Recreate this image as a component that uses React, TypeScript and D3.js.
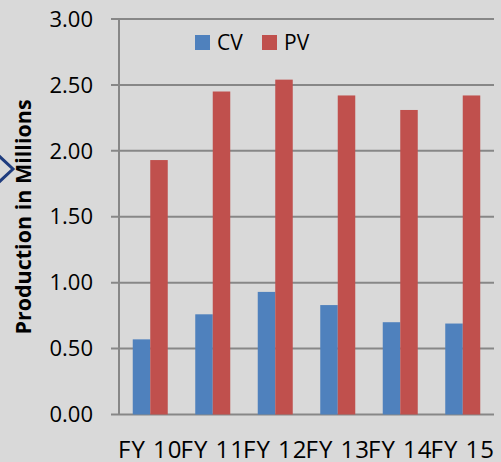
import { useEffect, useRef } from 'react';
import * as d3 from 'd3';

const years = ['FY 10', 'FY 11', 'FY 12', 'FY 13', 'FY 14', 'FY 15'];
const seriesNames = ['CV', 'PV'];
const cvValues = [0.57, 0.76, 0.93, 0.83, 0.70, 0.69];
const pvValues = [1.93, 2.45, 2.54, 2.42, 2.31, 2.42];
const yTicks = [0, 0.5, 1, 1.5, 2, 2.5, 3];
const colors = ['#4F81BD', '#C0504D'];

const W = 501;
const H = 462;
const FONT = '"Open Sans", sans-serif';

export default function App() {
  const svgRef = useRef<SVGSVGElement>(null);

  useEffect(() => {
    document.body.style.margin = '0';
    if (!svgRef.current) return;
    const svg = d3.select(svgRef.current);
    svg.selectAll('*').remove();

    const left = 119, right = 494, top = 19, bottom = 414.5;

    svg.append('rect').attr('width', W).attr('height', H).attr('fill', '#D9D9D9');

    const x = d3.scaleBand<string>()
      .domain(years)
      .range([left, right])
      .paddingInner(0.44)
      .paddingOuter(0.22);

    const xs = d3.scaleBand<string>()
      .domain(seriesNames)
      .range([0, x.bandwidth()]);

    const y = d3.scaleLinear().domain([0, 3]).range([bottom, top]);

    // gridlines
    svg.append('g')
      .selectAll('line')
      .data(yTicks)
      .enter()
      .append('line')
      .attr('x1', left - 8)
      .attr('x2', right)
      .attr('y1', d => y(d))
      .attr('y2', d => y(d))
      .attr('stroke', '#878787')
      .attr('stroke-width', 2);

    // y axis line
    svg.append('line')
      .attr('x1', left)
      .attr('x2', left)
      .attr('y1', y(3))
      .attr('y2', y(0))
      .attr('stroke', '#878787')
      .attr('stroke-width', 2);

    // tick labels
    svg.append('g')
      .selectAll('text')
      .data(yTicks)
      .enter()
      .append('text')
      .attr('x', 93)
      .attr('y', d => y(d))
      .attr('dy', '0.35em')
      .attr('text-anchor', 'end')
      .attr('font-family', FONT)
      .attr('font-size', 22)
      .attr('fill', '#000')
      .text(d => d3.format('.2f')(d));

    // bars
    const rows = years.map((yr, i) => ({ yr, vals: [cvValues[i], pvValues[i]] }));
    const groups = svg.append('g')
      .selectAll('g')
      .data(rows)
      .enter()
      .append('g')
      .attr('transform', d => `translate(${x(d.yr)},0)`);

    groups.selectAll('rect')
      .data(d => d.vals.map((v, j) => ({ name: seriesNames[j], v, j })))
      .enter()
      .append('rect')
      .attr('x', d => xs(d.name)!)
      .attr('width', xs.bandwidth())
      .attr('y', d => y(d.v))
      .attr('height', d => y(0) - y(d.v))
      .attr('fill', d => colors[d.j]);

    // x labels
    svg.append('g')
      .selectAll('text')
      .data(years)
      .enter()
      .append('text')
      .attr('x', d => x(d)! + x.bandwidth() / 2)
      .attr('y', 458)
      .attr('text-anchor', 'middle')
      .attr('font-family', FONT)
      .attr('font-size', 24)
      .attr('letter-spacing', 1)
      .attr('fill', '#000')
      .text(d => d);

    // legend
    const legendX = [195, 262];
    const legend = svg.append('g')
      .selectAll('g')
      .data(seriesNames)
      .enter()
      .append('g')
      .attr('transform', (d, i) => `translate(${legendX[i]},35)`);
    legend.append('rect')
      .attr('width', 15)
      .attr('height', 15)
      .attr('fill', (d, i) => colors[i]);
    legend.append('text')
      .attr('x', 22)
      .attr('y', 15)
      .attr('font-family', FONT)
      .attr('font-size', 21)
      .attr('fill', '#000')
      .text(d => d);

    // axis title
    svg.append('text')
      .attr('transform', 'translate(31,217) rotate(-90)')
      .attr('text-anchor', 'middle')
      .attr('font-family', FONT)
      .attr('font-weight', 'bold')
      .attr('font-size', 21.5)
      .attr('fill', '#000')
      .text('Production in Millions');

    // chevron at left edge
    svg.append('path')
      .attr('d', 'M-2,155 L13,169 L-2,183')
      .attr('fill', 'none')
      .attr('stroke', '#1F3C7E')
      .attr('stroke-width', 3);
  }, []);

  return <svg ref={svgRef} width={W} height={H} style={{ display: 'block' }} />;
}
